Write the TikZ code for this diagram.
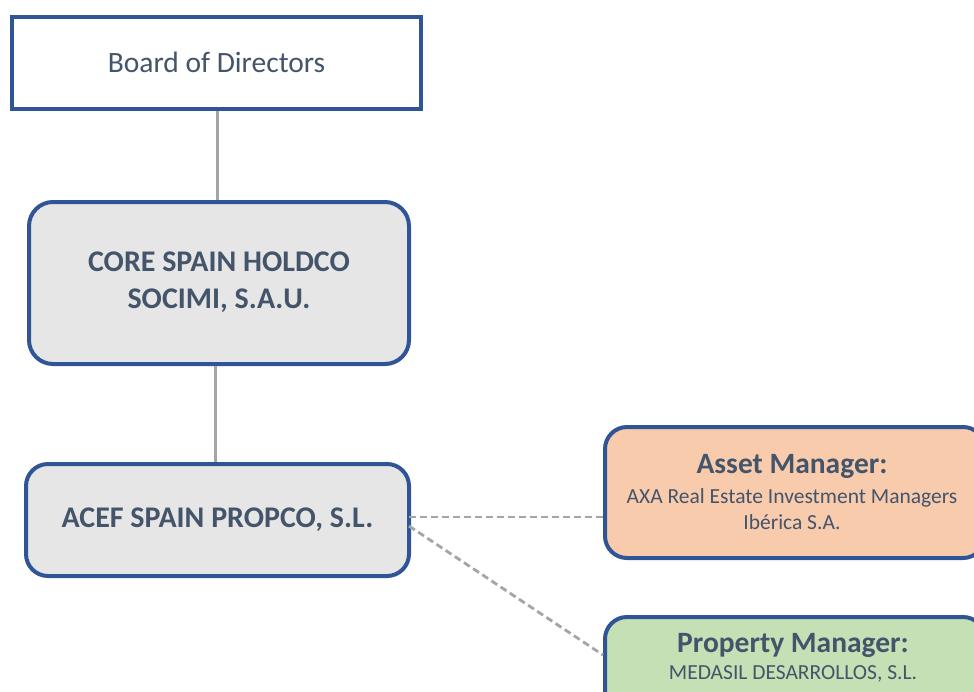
\documentclass[tikz,border=0pt]{standalone}
\usepackage{fontspec}
\setmainfont{Carlito}
\begin{document}
\begin{tikzpicture}[x=1pt,y=-1pt,
  txt/.style={text=textblue, align=center, inner sep=0pt},
  frame/.style={draw=frameblue, line width=4pt},
  roundframe/.style={frame, rounded corners=24pt},
  link/.style={draw=linkgray, line width=3pt},
  dlink/.style={draw=linkgray, line width=2.8pt, dash pattern=on 7pt off 4pt},
]
\definecolor{frameblue}{HTML}{2F5597}
\definecolor{textblue}{HTML}{44546A}
\definecolor{linkgray}{HTML}{A5A5A5}
\definecolor{boxgray}{HTML}{E7E6E6}
\definecolor{assetfill}{HTML}{F8CBAD}
\definecolor{propfill}{HTML}{C5E0B4}
\useasboundingbox (0,0) rectangle (974,691);
\clip (0,0) rectangle (974,691);

% boxes
\node[frame, fill=white, minimum width=409pt, minimum height=92pt, anchor=north west]
  (board) at (10,15) {};
\node[roundframe, fill=boxgray, minimum width=380pt, minimum height=162pt, anchor=north west]
  (core) at (27,200) {};
\node[roundframe, rounded corners=22pt, fill=boxgray, minimum width=383pt, minimum height=112pt, anchor=north west]
  (acef) at (24,462) {};
\node[roundframe, rounded corners=22pt, fill=assetfill, minimum width=380pt, minimum height=131pt, anchor=north west]
  (asset) at (603,425) {};
\node[roundframe, rounded corners=22pt, fill=propfill, minimum width=380pt, minimum height=95pt, anchor=north west]
  (prop) at (603,615) {};

% labels
\node[txt, font=\fontsize{29.5}{34}\selectfont] at ([yshift=1pt]board.center) {Board of Directors};
\node[txt, font=\fontsize{30}{37}\selectfont\bfseries] at ([yshift=1pt]core.center)
  {CORE SPAIN HOLDCO\\SOCIMI, S.A.U.};
\node[txt, font=\fontsize{30}{34}\selectfont\bfseries] at ([yshift=0pt]acef.center)
  {ACEF SPAIN PROPCO, S.L.};
\node[txt, font=\fontsize{29.5}{34}\selectfont\bfseries] (assethead) at (792,466) {Asset Manager:};
\node[txt, font=\fontsize{21.5}{26}\selectfont] at (792,509)
  {AXA Real Estate Investment Managers\\Ibérica S.A.};
\node[txt, font=\fontsize{29.5}{34}\selectfont\bfseries] (prophead) at (793,645) {Property Manager:};
\node[txt, font=\fontsize{21.5}{26}\selectfont] at (793,674) {MEDASIL DESARROLLOS, S.L.};

% connectors
\draw[link] (board.south -| 217,0) -- (core.north -| 217,0);
\draw[link] (core.south -| 215,0) -- (acef.north -| 215,0);
\coordinate (a1) at (409,517);
\coordinate (a2) at (409,526);
\draw[dlink] (a1) -- (a1 -| asset.west);
\draw[dlink] (a2) -- (prop.west |- 0,655);
\end{tikzpicture}
\end{document}
